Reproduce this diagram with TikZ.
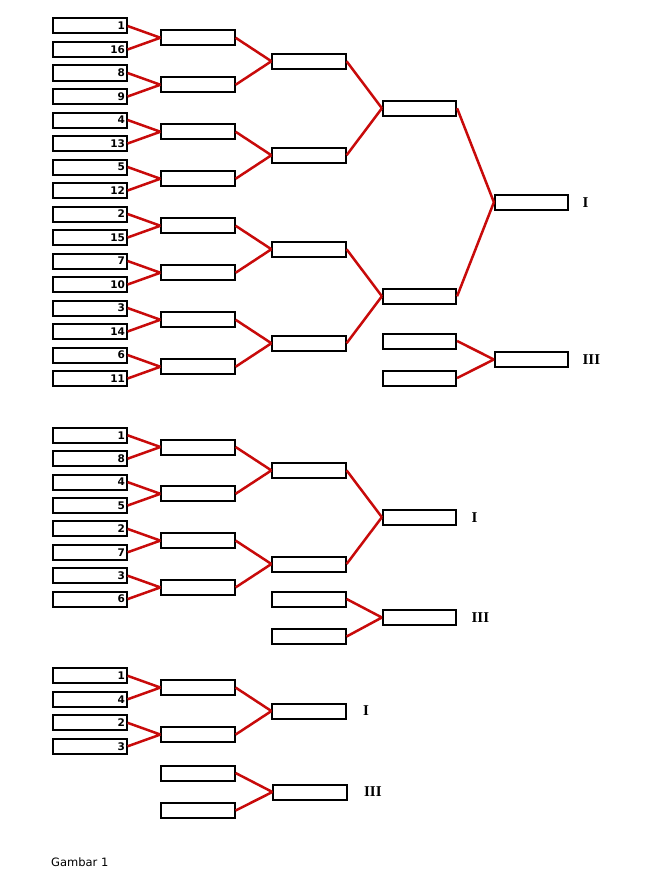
\documentclass[tikz,border=0pt]{standalone}
\usepackage{fontspec}
\newfontfamily\seedfont{DejaVu Sans}
\newfontfamily\romfont{Liberation Serif}
\newfontfamily\capfont{DejaVu Sans}
\definecolor{linkred}{RGB}{200,10,10}
\begin{document}
\begin{tikzpicture}[x=1pt,y=-1pt,
  box/.style={draw,line width=2pt,minimum height=15pt,text width=70pt,align=right,inner sep=1.6pt,
    font={\seedfont\bfseries\fontsize{10.5}{11}\selectfont}},
  link/.style={draw=linkred,line width=2.5pt},
  place/.style={anchor=west,font={\romfont\bfseries\fontsize{15}{16}\selectfont}}]
  \useasboundingbox (0,0) rectangle (664,875);

  \foreach \s [count=\i] in {1,16,8,9,4,13,5,12,2,15,7,10,3,14,6,11}
    \node[box] (pa\i) at (90,{26+23.5*(\i-1)}) {\s};
  \foreach \v/\x/\n/\m in {pb/198/8/2, pc/309/4/4, pd/419.5/2/8, pe/531.5/1/16}
    \foreach \i in {1,...,\n}
      \node[box] (\v\i) at (\x,{26+23.5*(\m*\i-(\m+1)/2)}) {};
  \foreach \u/\v/\n in {pa/pb/8, pb/pc/4, pc/pd/2, pd/pe/1}
    \foreach \i in {1,...,\n} {
      \pgfmathtruncatemacro\j{2*\i-1}
      \pgfmathtruncatemacro\k{2*\i}
      \draw[link] (\u\j.east) -- (\v\i.west) (\u\k.east) -- (\v\i.west);
    }
  \node[box] (pt1) at (419.5,341) {};
  \node[box] (pt2) at (419.5,378) {};
  \node[box] (pt3) at (531.5,359.5) {};
  \draw[link] (pt1.east) -- (pt3.west) (pt2.east) -- (pt3.west);
  \node[place] (pw) at ([xshift=10pt]pe1.east) {I};
  \node[place] (pz) at ([xshift=10pt]pt3.east) {III};

  \foreach \s [count=\i] in {1,8,4,5,2,7,3,6}
    \node[box] (qa\i) at (90,{435.3+23.4*(\i-1)}) {\s};
  \foreach \v/\x/\n/\m in {qb/198/4/2, qc/309/2/4, qd/419.5/1/8}
    \foreach \i in {1,...,\n}
      \node[box] (\v\i) at (\x,{435.3+23.4*(\m*\i-(\m+1)/2)}) {};
  \foreach \u/\v/\n in {qa/qb/4, qb/qc/2, qc/qd/1}
    \foreach \i in {1,...,\n} {
      \pgfmathtruncatemacro\j{2*\i-1}
      \pgfmathtruncatemacro\k{2*\i}
      \draw[link] (\u\j.east) -- (\v\i.west) (\u\k.east) -- (\v\i.west);
    }
  \node[box] (qt1) at (309,599) {};
  \node[box] (qt2) at (309,636.5) {};
  \node[box] (qt3) at (419.5,617.5) {};
  \draw[link] (qt1.east) -- (qt3.west) (qt2.east) -- (qt3.west);
  \node[place] (qw) at ([xshift=11pt]qd1.east) {I};
  \node[place] (qz) at ([xshift=11pt]qt3.east) {III};

  \foreach \s [count=\i] in {1,4,2,3}
    \node[box] (ra\i) at (90,{675.8+23.5*(\i-1)}) {\s};
  \foreach \v/\x/\n/\m in {rb/198/2/2, rc/309/1/4}
    \foreach \i in {1,...,\n}
      \node[box] (\v\i) at (\x,{675.8+23.5*(\m*\i-(\m+1)/2)}) {};
  \foreach \u/\v/\n in {ra/rb/2, rb/rc/1}
    \foreach \i in {1,...,\n} {
      \pgfmathtruncatemacro\j{2*\i-1}
      \pgfmathtruncatemacro\k{2*\i}
      \draw[link] (\u\j.east) -- (\v\i.west) (\u\k.east) -- (\v\i.west);
    }
  \node[box] (rt1) at (198,773) {};
  \node[box] (rt2) at (198,810.5) {};
  \node[box] (rt3) at (310,792) {};
  \draw[link] (rt1.east) -- (rt3.west) (rt2.east) -- (rt3.west);
  \node[place] (rw) at ([xshift=13pt]rc1.east) {I};
  \node[place] (rz) at ([xshift=13pt]rt3.east) {III};

  \node[anchor=base west,inner sep=0pt,font={\capfont\fontsize{11.5}{12}\selectfont}] (cap) at (51,866.5) {Gambar 1};
\end{tikzpicture}
\end{document}
